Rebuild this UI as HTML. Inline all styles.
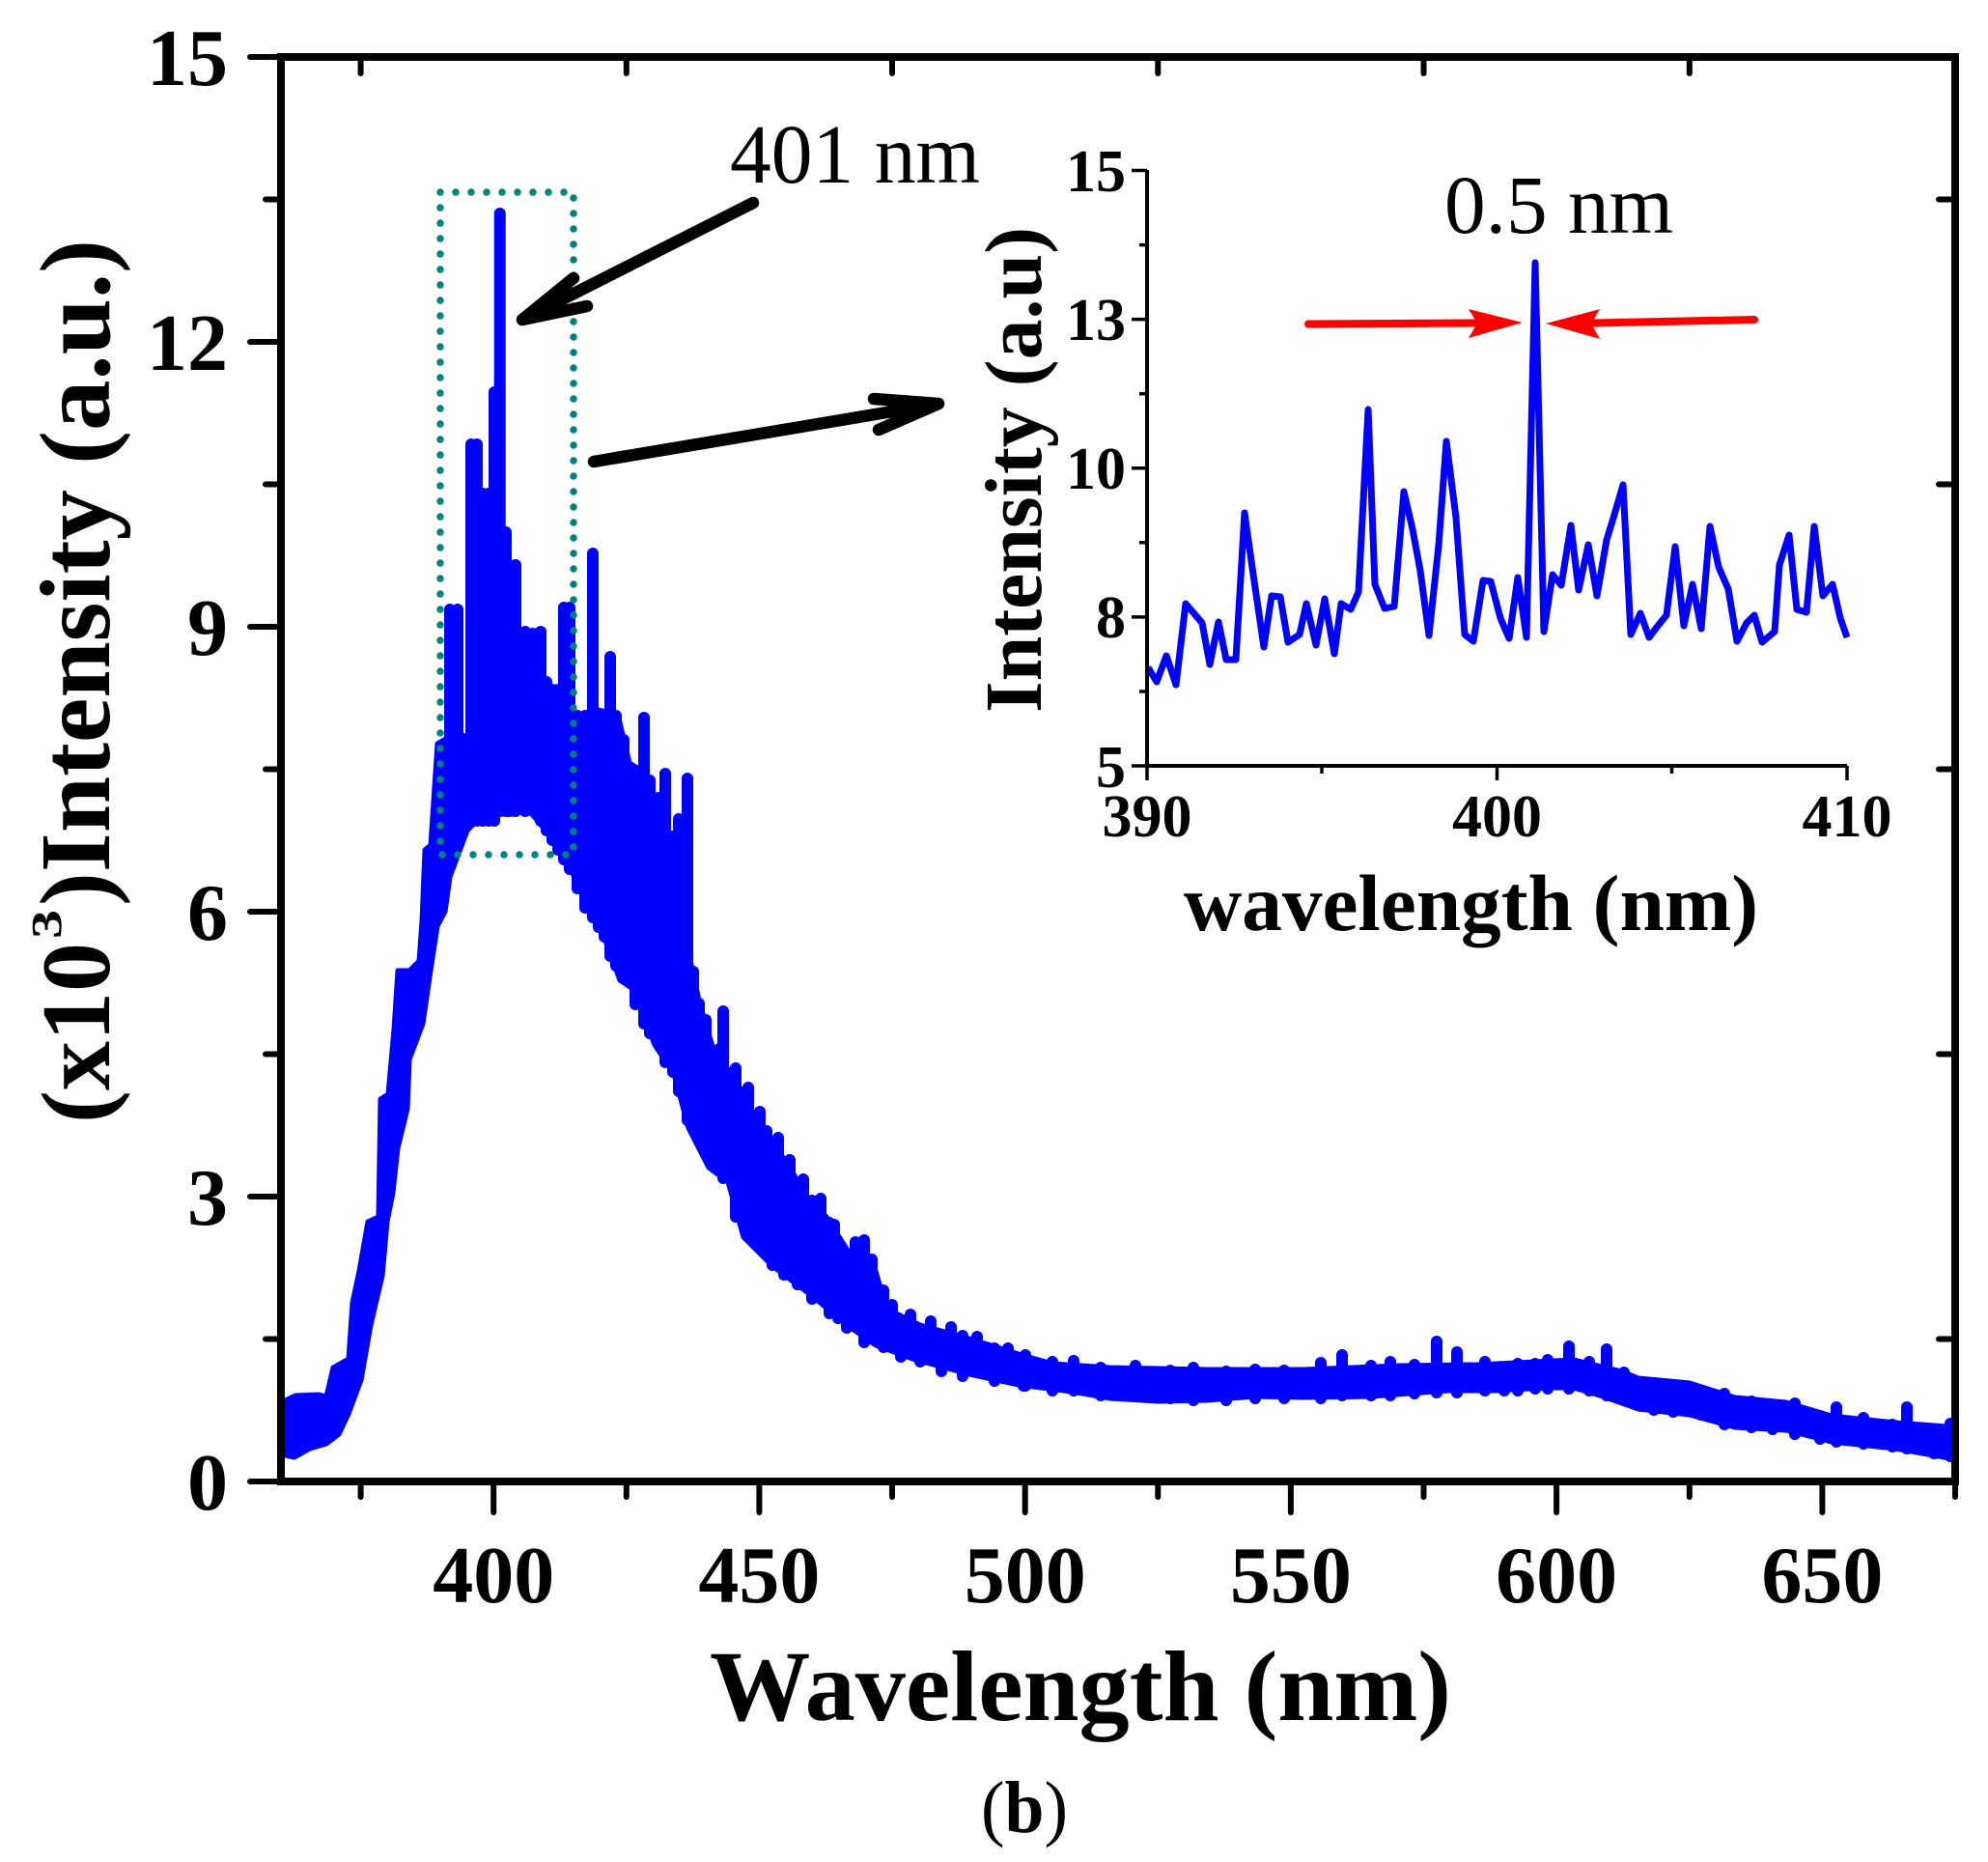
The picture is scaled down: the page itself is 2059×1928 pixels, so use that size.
<!DOCTYPE html>
<html>
<head>
<meta charset="utf-8">
<style>
html,body{margin:0;padding:0;background:#fff}
svg{display:block}
</style>
</head>
<body>
<svg width="2059" height="1928" viewBox="0 0 2059 1928" xmlns="http://www.w3.org/2000/svg" font-family="'Liberation Serif','Times New Roman',serif">
<rect x="0" y="0" width="2059" height="1928" fill="#fff"/>
<defs>
<clipPath id="plot"><rect x="291" y="59" width="1734" height="1475"/></clipPath>
</defs>

<!-- main curve -->
<g clip-path="url(#plot)">
<polygon fill="#0000ff" stroke="#0000ff" stroke-width="5" stroke-linejoin="round" points="
291,1452 306,1445 330,1444 338,1446 345,1416 361,1407 365,1349 372,1316 381,1265 392,1260 394,1138 402,1133 408,1066 412,1005 424,1005 434,995 437,954 440,880 446,875 453,770
470,760 490,770 520,775 545,770 570,760 600,740 620,735 640,740 652,790 668,800 680,830 690,880 700,930 712,980 724,1036 739,1087 754,1117 770,1148 790,1184 805,1189 821,1214 836,1240 856,1260 882,1301 907,1316 918,1355 953,1372 1004,1386 1055,1402 1090,1412 1150,1416 1250,1418 1350,1418 1450,1414 1530,1413 1630,1408 1680,1420 1697,1427 1750,1432 1797,1447 1850,1452 1897,1466 1963,1473 2030,1478
2030,1512 1963,1500 1897,1493 1850,1481 1797,1478 1750,1465 1697,1459 1660,1446 1630,1437 1600,1437 1550,1440 1500,1440 1420,1446 1350,1447 1300,1446 1250,1450 1200,1451 1150,1448 1110,1441 1055,1434 1004,1423 948,1408 907,1393 877,1372 841,1342 800,1311 770,1281 754,1224 734,1209 713,1168 698,1112 678,1082 657,1025 642,1015 627,974 617,954 601,923 586,888 571,867 550,842 530,832 504,840 484,860 466,908 461,944 453,959 446,1005 438,1060 424,1097 422,1148 412,1189 407,1235 401,1265 396,1321 384,1372 374,1429 361,1464 351,1485 338,1495 321,1500 305,1509 291,1506"/>
<path fill="none" stroke="#0000ff" stroke-width="12" stroke-linecap="round" d="
M460 860V781 M466 850V631 M474 850V631 M480 850V765 M488 850V460 M494 850V460 M500 850V511 M506 850V511 M512 850V406 M517.7 840V221 M524 840V551 M528 840V585 M534 840V585 M544 840V654 M552 840V656 M560 850V654 M566 860V706 M572 870V714 M578 880V714 M584 890V629 M590 900V629 M598 920V741 M606 940V741 M614 950V573 M620 960V741 M626 970V741 M632 990V680 M638 1000V741 M646 1010V766 M658 1040V808 M667 1060V743 M673 1070V808 M682 1080V826 M689 1100V801 M697 1110V866 M703 1130V848 M712 1160V806
M724 1180V1039 M731 1190V1056 M739 1200V1090 M749 1220V1047 M762 1260V1106 M775 1270V1126 M787 1290V1151 M800 1310V1190 M812 1320V1206 M826 1330V1226 M841 1345V1243 M859 1360V1266 M868 1365V1291 M877 1375V1299 M895 1390V1284 M915 1395V1336 M933 1405V1371 M953 1410V1381 M975 1420V1384 M997 1425V1383 M1030 1430V1396 M1060 1435V1406
M706 1000V951 M718 1050V1006 M745 1130V1086 M757 1140V1111 M768 1160V1131 M781 1200V1156 M794 1200V1171 M806 1210V1178 M818 1230V1201 M832 1250V1221 M850 1275V1241 M864 1300V1268 M886 1320V1286 M903 1330V1304 M924 1370V1351 M943 1385V1361 M964 1390V1368 M985 1395V1374 M1012 1400V1384 M1044 1410V1396
M1062 1435V1403 M1090 1440V1410 M1112 1440V1409 M1140 1445V1416 M1176 1445V1414 M1212 1448V1419 M1236 1450V1416 M1270 1450V1420 M1300 1448V1418 M1330 1448V1419 M1368 1448V1411 M1390 1445V1403 M1420 1445V1414 M1440 1445V1410 M1465 1443V1413 M1488 1442V1389 M1509 1442V1400 M1538 1440V1410 M1558 1440V1416 M1572 1440V1412 M1590 1438V1412 M1603 1438V1408 M1625 1438V1394 M1646 1440V1410 M1664 1445V1397 M1682 1450V1421 M1713 1460V1432 M1733 1462V1438 M1762 1465V1441 M1786 1475V1443 M1814 1478V1451 M1836 1480V1455 M1859 1485V1453 M1885 1490V1466 M1902 1493V1457 M1930 1495V1468 M1960 1498V1475 M1975 1500V1457 M2003 1505V1485 M2020 1508V1474"/>
</g>

<!-- dotted box -->
<rect x="456" y="199" width="138" height="686" fill="none" stroke="#008080" stroke-width="7.5" stroke-dasharray="0 16" stroke-linecap="round"/>

<!-- main axes -->
<rect x="291" y="59" width="1734" height="1475" fill="none" stroke="#000" stroke-width="8"/>
<path fill="none" stroke="#000" stroke-width="6" stroke-linecap="round" d="
M259 1534H291 M259 1239H291 M259 944H291 M259 649H291 M259 354H291 M259 59H291
M275 1386.5H291 M275 1091.5H291 M275 796.5H291 M275 501.5H291 M275 206.5H291
M2025 1386.5H2008 M2025 1091.5H2008 M2025 796.5H2008 M2025 501.5H2008 M2025 206.5H2008
M511.2 1534V1566 M786.4 1534V1566 M1061.7 1534V1566 M1336.9 1534V1566 M1612.1 1534V1566 M1887.4 1534V1566
M373.6 1534V1550 M648.8 1534V1550 M924 1534V1550 M1199.3 1534V1550 M1474.5 1534V1550 M1749.8 1534V1550 M2025 1534V1550
M373.6 59V76 M648.8 59V76 M924 59V76 M1199.3 59V76 M1474.5 59V76 M1749.8 59V76"/>

<!-- y tick labels -->
<g font-size="84" font-weight="bold" text-anchor="end" fill="#000">
<text x="236" y="1563">0</text>
<text x="236" y="1268">3</text>
<text x="236" y="973">6</text>
<text x="236" y="678">9</text>
<text x="236" y="383">12</text>
<text x="236" y="88">15</text>
</g>
<!-- x tick labels -->
<g font-size="84" font-weight="bold" text-anchor="middle" fill="#000">
<text x="511.2" y="1659">400</text>
<text x="786.4" y="1659">450</text>
<text x="1061.7" y="1659">500</text>
<text x="1336.9" y="1659">550</text>
<text x="1612.1" y="1659">600</text>
<text x="1887.4" y="1659">650</text>
</g>

<!-- axis titles -->
<text x="735" y="1781" font-size="104" font-weight="bold" textLength="768" lengthAdjust="spacingAndGlyphs">Wavelength (nm)</text>
<text transform="translate(113,1163) rotate(-90)" font-size="102" font-weight="bold">(x10</text>
<text transform="translate(63,972) rotate(-90)" font-size="44" font-weight="bold" textLength="30" lengthAdjust="spacingAndGlyphs">3</text>
<text transform="translate(113,938) rotate(-90)" font-size="104" font-weight="bold" textLength="690" lengthAdjust="spacingAndGlyphs">)Intensity (a.u.)</text>

<!-- (b) -->
<text x="1016" y="1897" font-size="76" textLength="90" lengthAdjust="spacingAndGlyphs"><tspan>(</tspan><tspan font-weight="bold">b</tspan><tspan>)</tspan></text>

<!-- 401 nm label and arrows -->
<text x="756" y="189" font-size="87" textLength="259" lengthAdjust="spacingAndGlyphs">401 nm</text>
<g fill="none" stroke="#000" stroke-width="12.5" stroke-linecap="round" stroke-linejoin="round">
<path d="M780 210L541 331 M594 288L541 331L608 317"/>
<path d="M615 478L972 418 M905 413L972 418L910 445"/>
</g>

<!-- inset -->
<polyline fill="none" stroke="#0000ff" stroke-width="7" stroke-linejoin="round" stroke-linecap="butt" points="1189,691 1198,706 1208,679 1218,709 1228,625 1245,645 1253,688 1262,644 1270,683 1280,683 1289,531 1297,588 1309,670 1317,617 1326,618 1334,665 1346,657 1353,625 1363,668 1372,620 1382,677 1389,625 1399,631 1407,613 1417,424 1424,605 1434,630 1444,628 1454,509 1463,548 1471,591 1480,658 1490,565 1498,457 1508,536 1517,657 1526,664 1536,601 1544,602 1554,640 1563,661 1572,598 1581,660 1590,272 1599,654 1608,595 1617,606 1627,544 1635,611 1645,564 1654,617 1664,559 1672,533 1681,502 1689,657 1699,635 1708,660 1717,648 1726,637 1735,566 1744,648 1753,605 1762,651 1771,545 1780,587 1790,610 1799,664 1809,645 1817,637 1825,665 1838,654 1843,585 1853,554 1861,631 1871,634 1879,545 1888,617 1898,605 1906,640 1913,660"/>
<path fill="none" stroke="#000" stroke-width="4" d="M1188 176V793H1913"/>
<path fill="none" stroke="#000" stroke-width="3.5" d="
M1172 176.5H1188 M1172 330.6H1188 M1172 484.8H1188 M1172 638.9H1188 M1172 793H1188
M1180 253.6H1188 M1180 407.7H1188 M1180 561.8H1188 M1180 716H1188
M1188 793V808 M1550.5 793V808 M1913 793V808
M1369 793V801 M1731.5 793V801"/>
<g font-size="62" font-weight="bold" text-anchor="end">
<text x="1166" y="198">15</text>
<text x="1166" y="352">13</text>
<text x="1166" y="506">10</text>
<text x="1166" y="660">8</text>
<text x="1166" y="815">5</text>
</g>
<g font-size="62" font-weight="bold" text-anchor="middle">
<text x="1188" y="866">390</text>
<text x="1550.5" y="866">400</text>
<text x="1913" y="866">410</text>
</g>
<text x="1226" y="963" font-size="83" font-weight="bold" textLength="595" lengthAdjust="spacingAndGlyphs">wavelength (nm)</text>
<text transform="translate(1078,738) rotate(-90)" font-size="84" font-weight="bold" textLength="503" lengthAdjust="spacingAndGlyphs">Intensity (a.u)</text>
<text x="1496" y="241" font-size="86" textLength="237" lengthAdjust="spacingAndGlyphs">0.5 nm</text>

<!-- red arrows -->
<g stroke="#ff0000" stroke-width="8" stroke-linecap="round" fill="none">
<path d="M1355 335.5L1528 334.5"/>
<path d="M1817 331L1650 334.5"/>
</g>
<polygon fill="#ff0000" points="1521,320 1577,334 1521,350 1530,334.5"/>
<polygon fill="#ff0000" points="1657,320 1601,335 1657,351 1648,335"/>
</svg>
</body>
</html>
